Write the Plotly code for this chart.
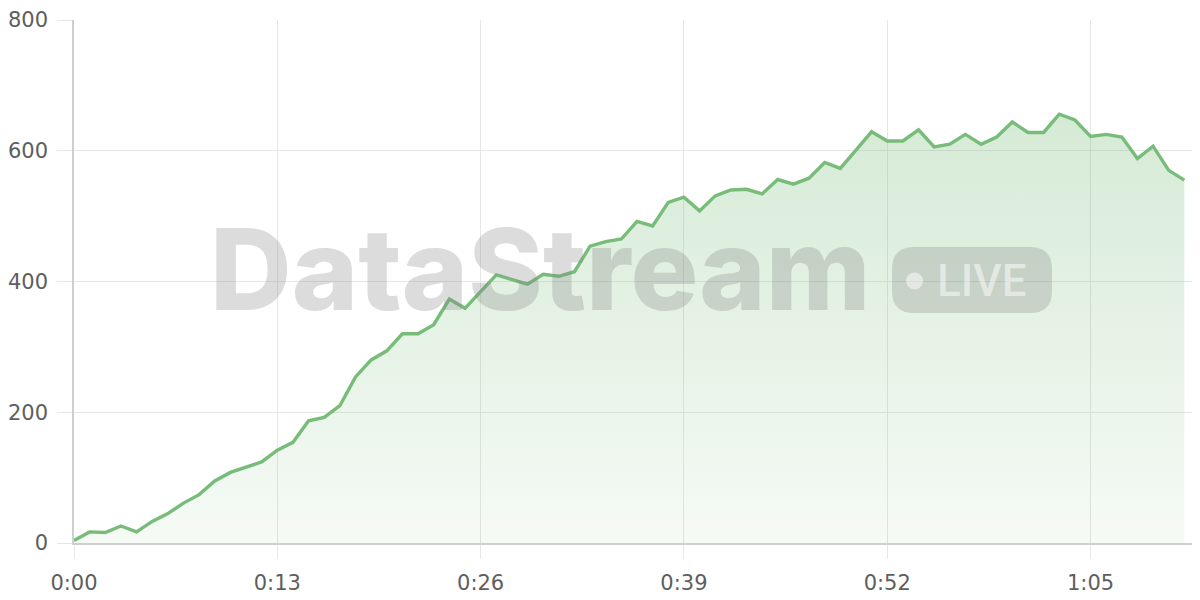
import plotly.graph_objects as go

seconds = list(range(72))
values = [4, 17, 16, 26, 17, 33, 45, 61, 74, 95, 108, 116, 124, 142, 154, 187, 192, 210,
          254, 280, 294, 320, 320, 334, 373, 359, 384, 410, 403, 396, 411, 408, 415, 454,
          461, 465, 492, 485, 521, 529, 508, 531, 540, 541, 534, 556, 549, 558, 582, 573,
          601, 629, 615, 615, 632, 606, 610, 625, 610, 621, 644, 628, 628, 656, 647, 622,
          625, 621, 588, 607, 570, 555]
x_tick_vals = [0, 13, 26, 39, 52, 65]
x_tick_text = ["0:00", "0:13", "0:26", "0:39", "0:52", "1:05"]
y_tick_vals = [0, 200, 400, 600, 800]

LINE = "rgb(120,188,122)"
GRID = "#e6e6e6"
AXIS = "#cfcfcf"
TICKFONT = dict(family="DejaVu Sans, sans-serif", size=21, color="#5e5e5e")

fig = go.Figure()
fig.add_trace(go.Scatter(
    x=seconds, y=values, mode="lines",
    line=dict(color=LINE, width=3.4),
    fill="tozeroy",
    fillgradient=dict(type="vertical", start=0, stop=max(values),
                      colorscale=[[0, "rgba(120,188,122,0.07)"], [1, "rgba(120,188,122,0.31)"]]),
    hoverinfo="skip", showlegend=False,
))

# page has an 8px body margin; plot area in window pixels: x 74..1200, y 20..543
OFF = 8
PW, PH = 1126.0, 523.0
def px(x):
    return (x - 74) / PW
def py(y):
    return (543 - y) / PH

# LIVE badge rounded rect
bx0, bx1, by0, by1, r = 892, 1052, 247, 313, 22
rx, ry = r / PW, r / PH
X0, X1, Y0, Y1 = px(bx0), px(bx1), py(by1), py(by0)
path = (f"M {X0+rx},{Y0} L {X1-rx},{Y0} Q {X1},{Y0} {X1},{Y0+ry} "
        f"L {X1},{Y1-ry} Q {X1},{Y1} {X1-rx},{Y1} L {X0+rx},{Y1} "
        f"Q {X0},{Y1} {X0},{Y1-ry} L {X0},{Y0+ry} Q {X0},{Y0} {X0+rx},{Y0} Z")
WM = "rgba(128,128,128,0.28)"
LIGHT = "rgba(255,255,255,0.5)"
fig.add_shape(type="path", path=path, xref="paper", yref="paper",
              fillcolor=WM, line=dict(width=0), layer="above")
fig.add_shape(type="circle", xref="paper", yref="paper",
              x0=px(906), x1=px(923), y0=py(289.5), y1=py(272.5),
              fillcolor=LIGHT, line=dict(width=0), layer="above")

fig.add_annotation(text="DataStream", xref="paper", yref="paper",
                   x=px(540), y=py(268.5), xanchor="center", yanchor="middle",
                   showarrow=False,
                   font=dict(family="Inter, Liberation Sans, sans-serif", size=113,
                             weight=800, color=WM))
fig.add_annotation(text="LIVE", xref="paper", yref="paper",
                   x=px(981.5), y=py(281), xanchor="center", yanchor="middle",
                   showarrow=False,
                   font=dict(family="Roboto, Liberation Sans, sans-serif", size=44,
                             weight=500, color=LIGHT))

fig.update_layout(
    width=1200 - OFF, height=600 - OFF,
    margin=dict(l=74 - OFF, r=0, t=20 - OFF, b=57),
    paper_bgcolor="white", plot_bgcolor="white",
    xaxis=dict(range=[0, 72], tickvals=x_tick_vals, ticktext=x_tick_text,
               showgrid=True, gridcolor=GRID, gridwidth=1,
               ticks="outside", ticklen=14, tickcolor=GRID, tickwidth=1,
               showline=True, linecolor=AXIS, linewidth=2,
               zeroline=False, tickfont=TICKFONT, ticklabelstandoff=6, fixedrange=True),
    yaxis=dict(range=[0, 800], tickvals=y_tick_vals,
               showgrid=True, gridcolor=GRID, gridwidth=1,
               ticks="outside", ticklen=15, tickcolor=GRID, tickwidth=1,
               showline=True, linecolor=AXIS, linewidth=1.5,
               zeroline=False, tickfont=TICKFONT, ticklabelstandoff=5, fixedrange=True),
)

fig.write_html("out.html")
